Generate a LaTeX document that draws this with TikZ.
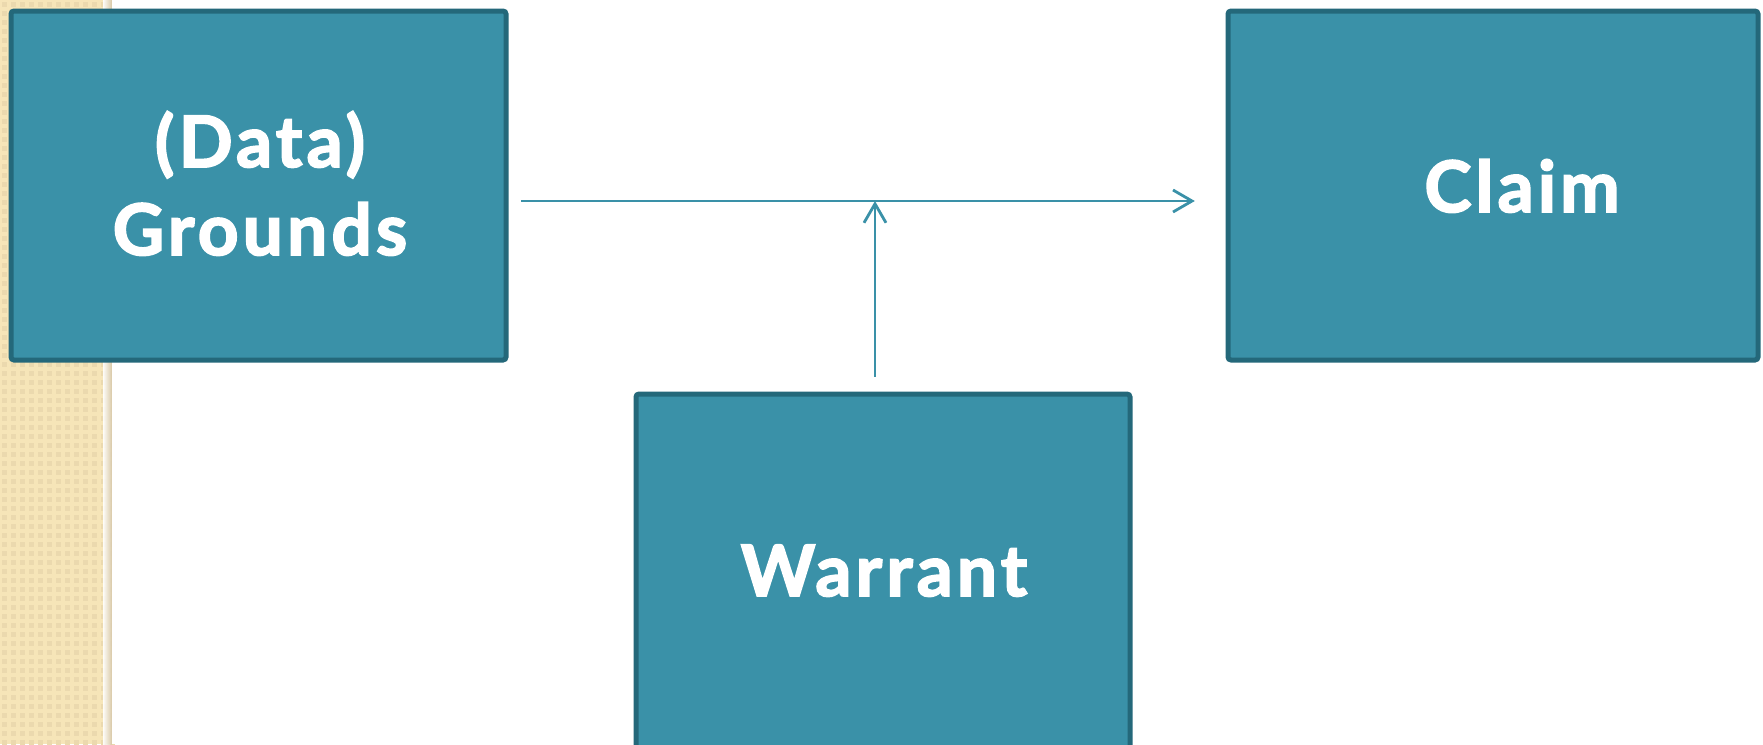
\documentclass[tikz,border=0pt]{standalone}
\usepackage{fontspec}
\setmainfont{Lato}[BoldFont={Lato Bold},BoldFeatures={FakeBold=2.5,LetterSpace=6}]
\usetikzlibrary{arrows.meta}
\definecolor{boxfill}{HTML}{3A91A8}
\definecolor{boxline}{HTML}{24687A}
\definecolor{beige}{HTML}{F6E5B8}
\definecolor{beigedot}{HTML}{EBD9AE}
\definecolor{beigeshade}{HTML}{D6C6A4}
\tikzset{
  tbox/.style={draw=boxline, fill=boxfill, line width=5pt, rounded corners=3pt},
  tlabel/.style={text=white, font=\fontsize{71}{88}\selectfont\bfseries, inner sep=0pt, anchor=base},
  conn/.style={draw=boxfill, line width=2.8pt, -{Straight Barb[length=19pt,width=22pt,line width=2.8pt]}},
}
\begin{document}
\begin{tikzpicture}[x=1pt,y=-1pt]
\useasboundingbox (0,0) rectangle (1763,744);
\clip (0,0) rectangle (1763,744);
% left decorative strip
\fill[beige] (0,0) rectangle (112,744);
\foreach \i in {0,...,12}{
  \foreach \j in {0,...,83}{
    \fill[beigedot] ({\i*9+2},{\j*9+2}) rectangle +(5,5);
  }
}
\shade[left color=beige!0, right color=beigeshade, opacity=0.9] (103,0) rectangle (112,744);
\fill[white] (112,0) rectangle (1763,744);
% boxes
\path[tbox] (11,11) rectangle (506,360);
\node[minimum width=495pt, minimum height=349pt, inner sep=0pt] (g) at (258.5,185.5) {};
\path[tbox] (1228,11) rectangle (1758,360);
\node[minimum width=530pt, minimum height=349pt, inner sep=0pt] (c) at (1493,185.5) {};
\path[tbox] (636,394) rectangle (1130,760);
\node[minimum width=494pt, minimum height=366pt, inner sep=0pt] (w) at (883,577) {};
% texts
\node[tlabel] (gt1) at (260,167) {(Data)};
\node[tlabel] (gt2) at (260,255) {Grounds};
\node[tlabel] (ct) at (1522,212) {Claim};
\node[tlabel] (wt) at (884,596) {Warrant};
% connectors
\coordinate (hs) at ([xshift=15pt,yshift=-15.5pt]g.east);
\coordinate (he) at ([xshift=-33pt]hs -| c.west);
\draw[conn] (hs) -- (he);
\coordinate (vs) at ([xshift=-8pt,yshift=17pt]w.north);
\draw[conn] (vs) -- (vs |- hs);
\end{tikzpicture}
\end{document}
